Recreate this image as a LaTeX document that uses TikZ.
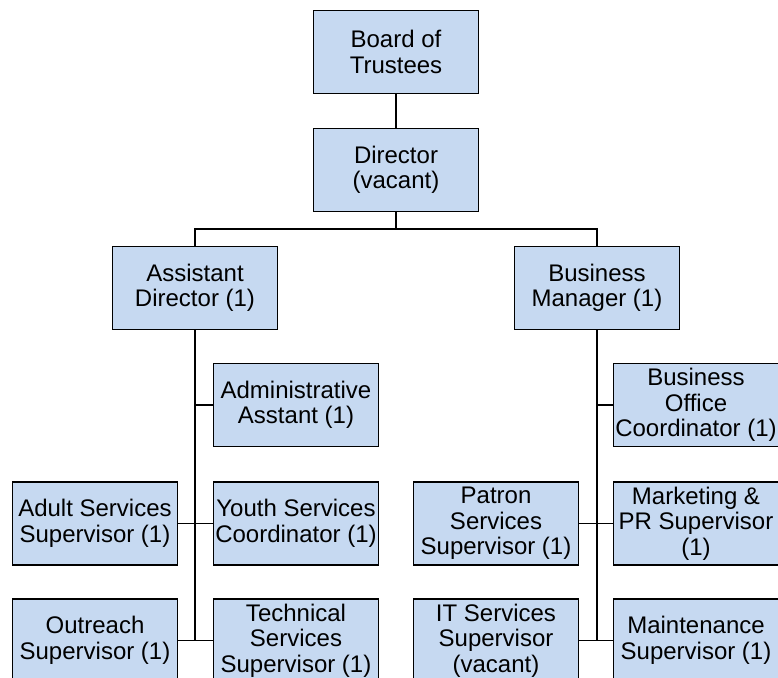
\documentclass[tikz,border=0pt]{standalone}
\usepackage{fontspec}
\setmainfont{Liberation Sans}
\definecolor{boxfill}{HTML}{C6D9F1}
\tikzset{
  post/.style={draw=black, line width=1.8pt, fill=boxfill, rectangle,
    minimum width=165pt, minimum height=83pt, inner sep=0pt,
    align=center, font=\fontsize{24pt}{25.5pt}\selectfont},
  link/.style={draw=black, line width=1.8pt}
}
\begin{document}
\begin{tikzpicture}[x=1pt, y=-1pt]
  \useasboundingbox (0,0) rectangle (778,677);
  \clip (0,0) rectangle (778,677);

  % top of the chart
  \node[post] (board) at (396,52) {Board of\\Trustees};
  \node[post] (dir) at (396,170) {Director\\(vacant)};
  \node[post] (ad) at (195,288) {Assistant\\Director (1)};
  \node[post] (bm) at (597,288) {Business\\Manager (1)};

  % reports of the assistant director
  \node[post] (admin) at (296,405) {Administrative\\Asstant (1)};
  \node[post] (adult) at (95,523.5) {Adult Services\\Supervisor (1)};
  \node[post] (youth) at (296,523.5) {Youth Services\\Coordinator (1)};
  \node[post] (outreach) at (95,640.5) {Outreach\\Supervisor (1)};
  \node[post] (tech) at (296,640.5) {Technical\\Services\\Supervisor (1)};

  % reports of the business manager
  \node[post] (office) at (696,405) {Business\\Office\\Coordinator (1)};
  \node[post] (patron) at (496,523.5) {Patron\\Services\\Supervisor (1)};
  \node[post] (market) at (696,523.5) {Marketing \&\\PR Supervisor\\(1)};
  \node[post] (itsup) at (496,640.5) {IT Services\\Supervisor\\(vacant)};
  \node[post] (maint) at (696,640.5) {Maintenance\\Supervisor (1)};

  \coordinate (bar) at (396,229);

  % connectors
  \draw[link] (board.south) -- (dir.north);
  \draw[link] (dir.south) -- (bar);
  \draw[link] (ad.north) |- (bar) -| (bm.north);

  \draw[link] (ad.south) -- (ad.south |- tech.west);
  \draw[link] (ad.south |- admin.west) -- (admin.west);
  \draw[link] (adult.east) -- (youth.west);
  \draw[link] (outreach.east) -- (tech.west);

  \draw[link] (bm.south) -- (bm.south |- maint.west);
  \draw[link] (bm.south |- office.west) -- (office.west);
  \draw[link] (patron.east) -- (market.west);
  \draw[link] (itsup.east) -- (maint.west);
\end{tikzpicture}
\end{document}
